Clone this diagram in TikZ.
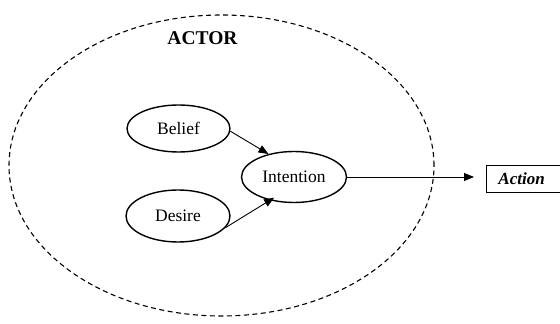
\documentclass[tikz,border=0pt]{standalone}
\usepackage{fontspec}
\setmainfont{Liberation Serif}
\usetikzlibrary{shapes.geometric,arrows.meta}
\begin{document}
\begin{tikzpicture}[x=1pt,y=1pt,
  oval/.style={ellipse,draw,line width=1.4pt,inner sep=0pt,font=\fontsize{17.5}{20}\selectfont},
  arr/.style={line width=0.9pt,-{Triangle[length=10pt,width=8pt]}},
  bound/.style={dash pattern=on 5pt off 3.5pt,line width=1.1pt}]
\useasboundingbox (0,0) rectangle (560,324);
\clip (0,0) rectangle (560,324);
\fill[white] (0,0) rectangle (560,324);
% actor boundary
\draw[bound] (221.5,158.5) ellipse [x radius=212.5, y radius=150.5];
\node[font=\fontsize{19.5}{22}\selectfont\bfseries] (actorlabel) at (202.5,285.5) {ACTOR};
% nodes
\node[oval,minimum width=103pt,minimum height=47pt] (belief) at (178.5,195.5) {Belief};
\node[oval,minimum width=104pt,minimum height=52pt] (desire) at (178,108) {Desire};
\node[oval,minimum width=105pt,minimum height=51pt] (intention) at (294,147) {Intention};
\node[draw,line width=0.9pt,anchor=west,minimum height=27pt,text width=130pt,inner xsep=12pt,align=left,
  font=\fontsize{17}{20}\selectfont\bfseries\itshape] (action) at (486,145.5) {Action};
% connectors
\draw[arr] (belief.-3) -- (intention.138);
\draw[arr,shorten >=-5pt] (desire.-14) -- (intention.224);
\draw[arr,shorten >=12pt] (intention.east) -- (intention.east -| action.west);
\end{tikzpicture}
\end{document}
